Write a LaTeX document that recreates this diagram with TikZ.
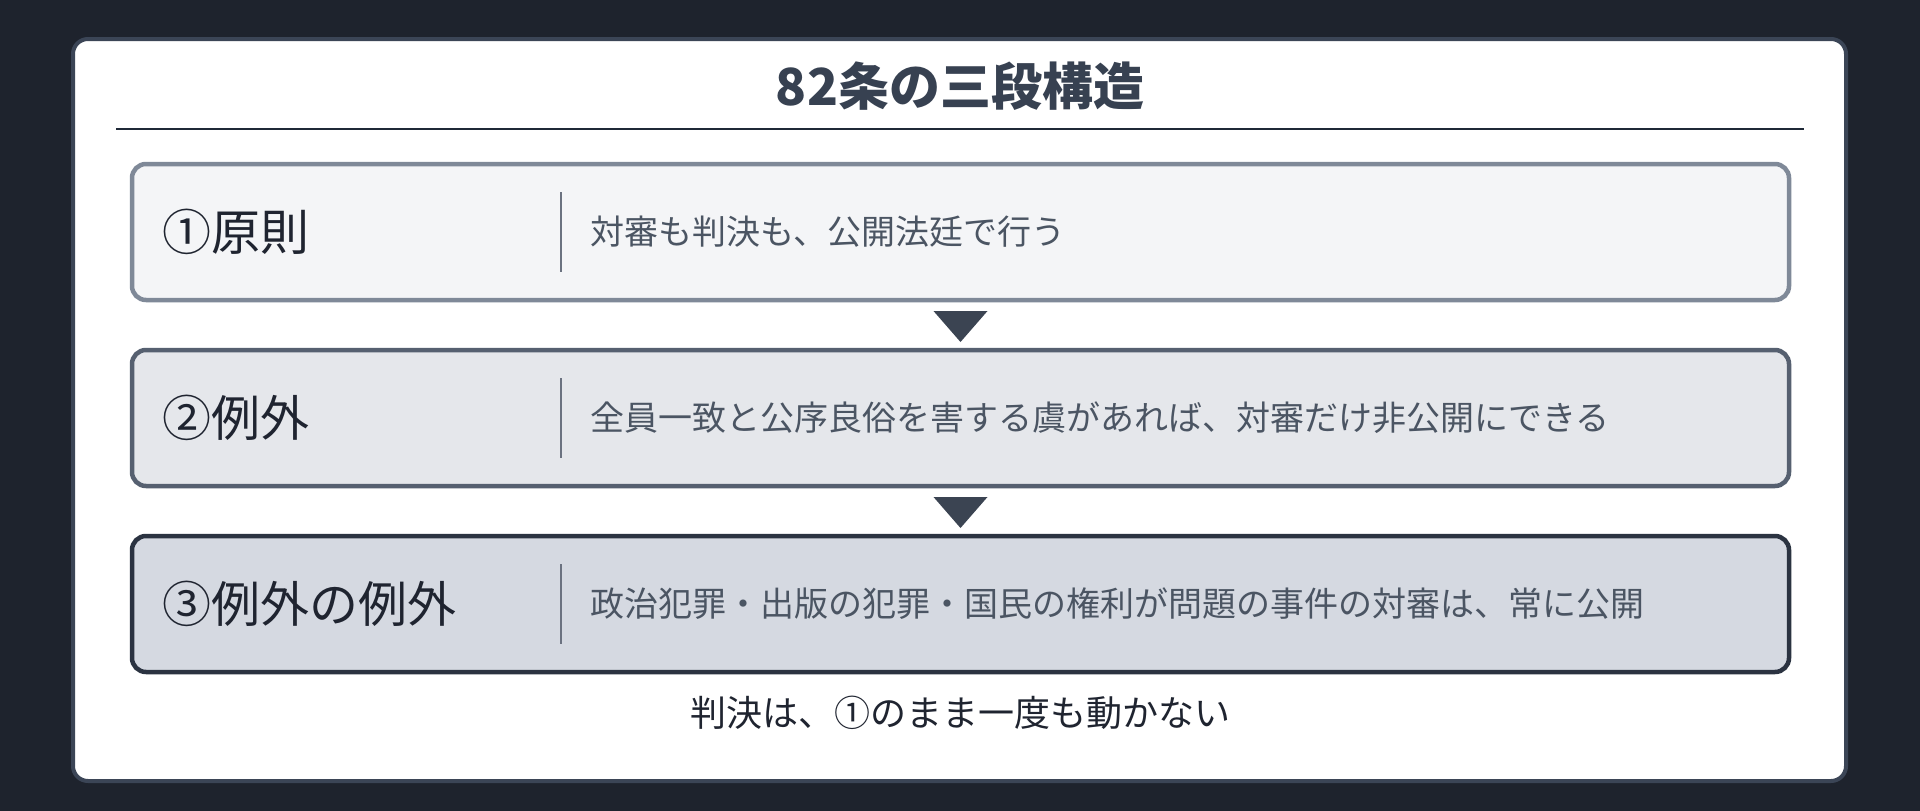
\documentclass[tikz,border=0pt]{standalone}
\usepackage{fontspec}
\setmainfont{Noto Sans CJK JP}
\usepackage{tikz}
\usetikzlibrary{positioning,calc}

\definecolor{bgdark}{HTML}{1E232D}
\definecolor{cardline}{HTML}{3B4556}
\definecolor{titlecol}{HTML}{374151}
\definecolor{rulecol}{HTML}{1F2937}
\definecolor{fillA}{HTML}{F4F5F7}
\definecolor{lineA}{HTML}{7F8998}
\definecolor{fillB}{HTML}{E5E7EB}
\definecolor{lineB}{HTML}{566070}
\definecolor{fillC}{HTML}{D5D9E1}
\definecolor{lineC}{HTML}{2B3341}
\definecolor{textcol}{HTML}{1F2430}
\definecolor{desccol}{HTML}{4B5563}
\definecolor{divcol}{HTML}{6B7280}
\definecolor{tricol}{HTML}{3B4452}

\begin{document}
\begin{tikzpicture}[x=1pt, y=-1pt,
cardnode/.style={rectangle, rounded corners=15pt, draw=cardline, line width=4pt, fill=white, minimum width=1773pt, minimum height=742pt},
stagenode/.style={rectangle, rounded corners=14pt, line width=4.5pt, minimum width=1657pt, minimum height=136pt, outer sep=0pt},
labelnode/.style={inner sep=0pt, text=textcol, font=\fontsize{49}{58}\selectfont},
descnode/.style={inner sep=0pt, text=desccol, font=\fontsize{34}{40}\selectfont},
divider/.style={draw=divcol, line width=2.5pt},
tri/.style={fill=tricol},
]
\fill[bgdark] (0,0) rectangle (1920,811);
\useasboundingbox (0,0) rectangle (1920,811);

%Nodes
\node[cardnode]  (card)  at (959.5,410) {};
\node[font=\fontsize{51}{60}\selectfont\bfseries, text=titlecol] (title) at (960,86) {82条の三段構造};
\draw[rulecol, line width=2.5pt] (116,129) -- (1804,129);

\node[stagenode, draw=lineA, fill=fillA] (b1) at (960.5,232) {};
\node[stagenode, draw=lineB, fill=fillB] (b2) [below=50pt of b1] {};
\node[stagenode, draw=lineC, fill=fillC] (b3) [below=50pt of b2] {};

\node[labelnode] (l1) [right=30pt of b1.west] {①原則};
\node[labelnode] (l2) [right=30pt of b2.west] {②例外};
\node[labelnode] (l3) [right=30pt of b3.west] {③例外の例外};

\node[descnode] (d1) [right=458pt of b1.west] {対審も判決も、公開法廷で行う};
\node[descnode] (d2) [right=458pt of b2.west] {全員一致と公序良俗を害する虞があれば、対審だけ非公開にできる};
\node[descnode] (d3) [right=458pt of b3.west] {政治犯罪・出版の犯罪・国民の権利が問題の事件の対審は、常に公開};

\node[inner sep=0pt, text=textcol, font=\fontsize{36}{42}\selectfont] (note) [below=24pt of b3] {判決は、①のまま一度も動かない};

%Lines
\draw[divider] ($(b1.west)+(429,-40)$) -- ($(b1.west)+(429,40)$);
\draw[divider] ($(b2.west)+(429,-40)$) -- ($(b2.west)+(429,40)$);
\draw[divider] ($(b3.west)+(429,-40)$) -- ($(b3.west)+(429,40)$);

\path (b1.south) -- coordinate[midway] (t1) (b2.north);
\path (b2.south) -- coordinate[midway] (t2) (b3.north);
\fill[tri] ($(t1)+(-27,-14)$) -- ($(t1)+(27,-14)$) -- ($(t1)+(0,17)$) -- cycle;
\fill[tri] ($(t2)+(-27,-14)$) -- ($(t2)+(27,-14)$) -- ($(t2)+(0,17)$) -- cycle;

\end{tikzpicture}
\end{document}
